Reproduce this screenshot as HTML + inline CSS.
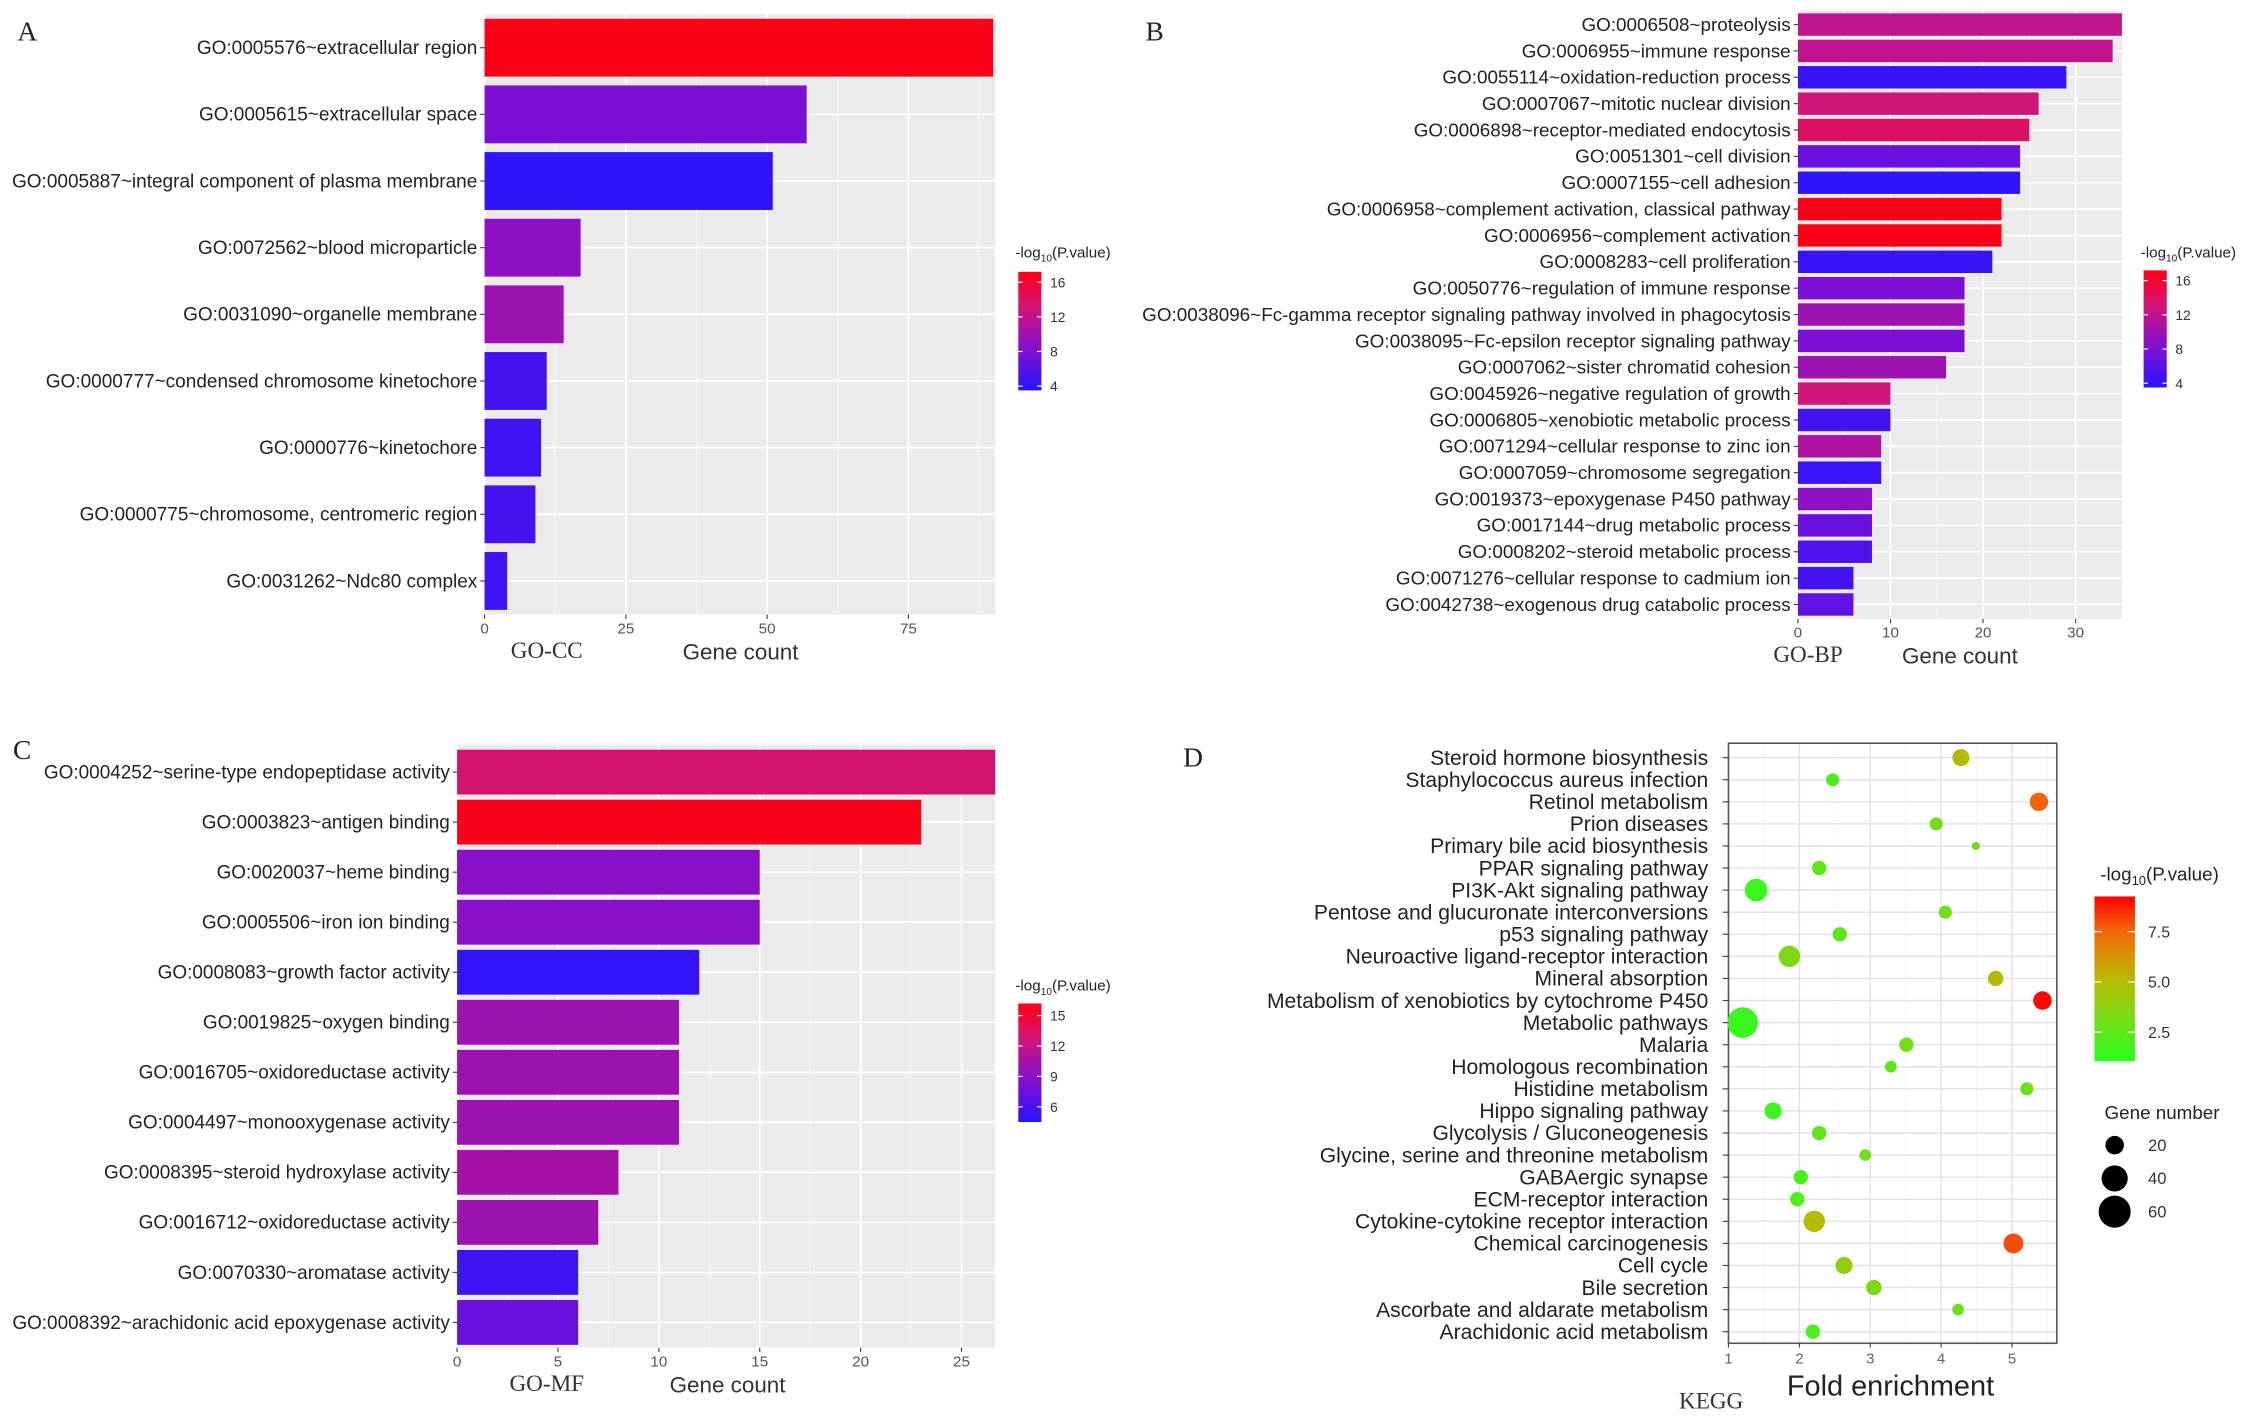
<!DOCTYPE html>
<html><head><meta charset="utf-8">
<style>
html,body{margin:0;padding:0;background:#fff;}
svg{display:block;}
text{font-family:"Liberation Sans",Arial,sans-serif;}
.serif{font-family:"Liberation Serif",serif;}
</style></head>
<body>
<svg id="fig" width="2268" height="1417" viewBox="0 0 1568 980" preserveAspectRatio="none" xmlns="http://www.w3.org/2000/svg"></svg>
<script>
// ---------- Panel A data (GO-CC) ----------
const ccTerms = ["GO:0005576~extracellular region","GO:0005615~extracellular space","GO:0005887~integral component of plasma membrane","GO:0072562~blood microparticle","GO:0031090~organelle membrane","GO:0000777~condensed chromosome kinetochore","GO:0000776~kinetochore","GO:0000775~chromosome, centromeric region","GO:0031262~Ndc80 complex"];
const ccCounts = [90,57,51,17,14,11,10,9,4];
const ccLogP = [17,8,4,9,10,5,4.6,5,4.7];
const ccTicks = [0,25,50,75];
const ccLegendTicks = [16,12,8,4];
// ---------- Panel B data (GO-BP) ----------
const bpTerms = ["GO:0006508~proteolysis","GO:0006955~immune response","GO:0055114~oxidation-reduction process","GO:0007067~mitotic nuclear division","GO:0006898~receptor-mediated endocytosis","GO:0051301~cell division","GO:0007155~cell adhesion","GO:0006958~complement activation, classical pathway","GO:0006956~complement activation","GO:0008283~cell proliferation","GO:0050776~regulation of immune response","GO:0038096~Fc-gamma receptor signaling pathway involved in phagocytosis","GO:0038095~Fc-epsilon receptor signaling pathway","GO:0007062~sister chromatid cohesion","GO:0045926~negative regulation of growth","GO:0006805~xenobiotic metabolic process","GO:0071294~cellular response to zinc ion","GO:0007059~chromosome segregation","GO:0019373~epoxygenase P450 pathway","GO:0017144~drug metabolic process","GO:0008202~steroid metabolic process","GO:0071276~cellular response to cadmium ion","GO:0042738~exogenous drug catabolic process"];
const bpCounts = [35,34,29,26,25,24,24,22,22,21,18,18,18,16,10,10,9,9,8,8,8,6,6];
const bpLogP = [12,12,4.3,13,14,7,4,17,17,4.3,8,10,8,10,13,5,11,4.5,9,7,5.5,5,6.5];
const bpTicks = [0,10,20,30];
const bpLegendTicks = [16,12,8,4];
// ---------- Panel C data (GO-MF) ----------
const mfTerms = ["GO:0004252~serine-type endopeptidase activity","GO:0003823~antigen binding","GO:0020037~heme binding","GO:0005506~iron ion binding","GO:0008083~growth factor activity","GO:0019825~oxygen binding","GO:0016705~oxidoreductase activity","GO:0004497~monooxygenase activity","GO:0008395~steroid hydroxylase activity","GO:0016712~oxidoreductase activity","GO:0070330~aromatase activity","GO:0008392~arachidonic acid epoxygenase activity"];
const mfCounts = [27,23,15,15,12,11,11,11,8,7,6,6];
const mfLogP = [13,16,9,9,5,10,10,10,10.5,10,5.5,7.5];
const mfTicks = [0,5,10,15,20,25];
const mfLegendTicks = [15,12,9,6];
// ---------- Panel D data (KEGG) ----------
const keggTerms = ["Steroid hormone biosynthesis","Staphylococcus aureus infection","Retinol metabolism","Prion diseases","Primary bile acid biosynthesis","PPAR signaling pathway","PI3K-Akt signaling pathway","Pentose and glucuronate interconversions","p53 signaling pathway","Neuroactive ligand-receptor interaction","Mineral absorption","Metabolism of xenobiotics by cytochrome P450","Metabolic pathways","Malaria","Homologous recombination","Histidine metabolism","Hippo signaling pathway","Glycolysis / Gluconeogenesis","Glycine, serine and threonine metabolism","GABAergic synapse","ECM-receptor interaction","Cytokine-cytokine receptor interaction","Chemical carcinogenesis","Cell cycle","Bile secretion","Ascorbate and aldarate metabolism","Arachidonic acid metabolism"];
const keggFold = [4.28,2.47,5.38,3.93,4.49,2.28,1.39,4.06,2.57,1.86,4.77,5.43,1.2,3.51,3.29,5.21,1.63,2.28,2.93,2.02,1.97,2.21,5.02,2.63,3.05,4.24,2.19];
const keggGenes = [17,10,20,10,4,12,30,10,12,27,14,20,55,12,8,10,17,12,8,12,12,27,23,17,14,8,12];
const keggLogP = [5,2,7.6,3,3,2.5,1.5,3,2.5,3.5,5,9.1,1.5,3,2.5,3,1.5,2.5,3,2,2,5,8,4,3.5,3,2];
const keggTicks = [1,2,3,4,5];
const keggColorTicks = [7.5,5.0,2.5];
const keggSizeTicks = [20,40,60];

const NS="http://www.w3.org/2000/svg";
const svg=document.getElementById('fig');
function el(tag,attrs,parent,txt){const e=document.createElementNS(NS,tag);for(const k in attrs)e.setAttribute(k,attrs[k]);if(txt!==undefined)e.textContent=txt;(parent||svg).appendChild(e);return e;}
function lerp(a,b,t){return Math.round(a+(b-a)*t);}
function blueRed(v,lo,hi){let t=Math.max(0,Math.min(1,(v-lo)/(hi-lo)));
  const stops=[[0,[40,20,255]],[0.35,[130,15,210]],[0.7,[210,20,120]],[1,[255,0,20]]];
  for(let i=1;i<stops.length;i++){if(t<=stops[i][0]){const a=stops[i-1],b=stops[i];const u=(t-a[0])/(b[0]-a[0]);return `rgb(${lerp(a[1][0],b[1][0],u)},${lerp(a[1][1],b[1][1],u)},${lerp(a[1][2],b[1][2],u)})`;}}
}
function greenRed(v,lo,hi){let t=Math.max(0,Math.min(1,(v-lo)/(hi-lo)));
  const stops=[[0,[40,255,30]],[0.3,[130,215,20]],[0.5,[185,185,0]],[0.8,[245,100,10]],[1,[255,0,0]]];
  for(let i=1;i<stops.length;i++){if(t<=stops[i][0]){const a=stops[i-1],b=stops[i];const u=(t-a[0])/(b[0]-a[0]);return `rgb(${lerp(a[1][0],b[1][0],u)},${lerp(a[1][1],b[1][1],u)},${lerp(a[1][2],b[1][2],u)})`;}}
}

function barPanel(o){
  const g=el('g',{});
  
  
  const x=v=>o.x0+(v-0)*o.ppu;
  const n=o.terms.length;
  const yC=i=>o.yFirst+i*o.step;
  const bg=el('rect',{x:o.x0,y:o.top,width:o.x1-o.x0,height:o.bottom-o.top,fill:'#ebebeb'},g);
  
  
  for(let k=0;k<o.ticks.length;k++){
    const tv=o.ticks[k];const mid=tv+(o.ticks[1]-o.ticks[0])/2;
    if(x(mid)<o.x1) el('line',{x1:x(mid),x2:x(mid),y1:o.top,y2:o.bottom,stroke:'#f5f5f5','stroke-width':0.6},g);
    el('line',{x1:x(tv),x2:x(tv),y1:o.top,y2:o.bottom,stroke:'#fff','stroke-width':1.1},g);
  }
  for(let i=0;i<n;i++) el('line',{x1:o.x0,x2:o.x1,y1:yC(i),y2:yC(i),stroke:'#fff','stroke-width':1.1},g);
  for(let i=0;i<n;i++){
    const w=Math.min(x(o.counts[i]),o.x1)-o.x0;
    const r=el('rect',{x:o.x0,y:yC(i)-o.bh/2,width:w,height:o.bh,fill:blueRed(o.logp[i],o.lo,o.hi)},g);
    
    
    const t=el('text',{x:o.x0-5,y:yC(i)+4.4,'text-anchor':'end','font-size':o.fs,fill:'#222'},g,o.terms[i]);
    
    
    el('line',{x1:o.x0-3,x2:o.x0,y1:yC(i),y2:yC(i),stroke:'#444','stroke-width':0.8},g);
  }
  for(const tv of o.ticks){
    el('line',{x1:x(tv),x2:x(tv),y1:o.bottom,y2:o.bottom+3,stroke:'#444','stroke-width':0.8},g);
    const t=el('text',{x:x(tv),y:o.bottom+13,'text-anchor':'middle','font-size':10.5,fill:'#555'},g,String(tv));
    
    
  }
  const s=el('text',{x:o.subX,y:o.bottom+30,'text-anchor':'middle','font-size':16,fill:'#333',class:'serif'},g,o.sub);
  
  
  const a=el('text',{x:o.axX,y:o.bottom+31,'text-anchor':'middle','font-size':15.5,fill:'#333'},g,'Gene count');
  
  
  const L=o.leg;
  const lt=el('text',{x:L.x-2,y:L.tY,'font-size':10.5,fill:'#222'},g);
  
  
  el('tspan',{},lt,'-log');el('tspan',{'font-size':7,dy:3},lt,'10');el('tspan',{dy:-3},lt,'(P.value)');
  const gid='grad'+o.name;
  const defs=el('defs',{},g);const lg=el('linearGradient',{id:gid,x1:0,y1:1,x2:0,y2:0},defs);
  for(let k=0;k<=10;k++){const v=o.lo+(o.hi-o.lo)*k/10;el('stop',{offset:k/10,'stop-color':blueRed(v,o.lo,o.hi)},lg);}
  const cb=el('rect',{x:L.x,y:L.y0,width:16,height:L.y1-L.y0,fill:`url(#${gid})`},g);
  
  
  const ly=v=>L.y1-(v-o.lo)/(o.hi-o.lo)*(L.y1-L.y0);
  for(const tv of o.legTicks){
    el('line',{x1:L.x,x2:L.x+3,y1:ly(tv),y2:ly(tv),stroke:'#fff','stroke-width':0.8},g);
    el('line',{x1:L.x+13,x2:L.x+16,y1:ly(tv),y2:ly(tv),stroke:'#fff','stroke-width':0.8},g);
    const t=el('text',{x:L.x+22,y:ly(tv)+3.5,'font-size':9.5,fill:'#333'},g,String(tv));
    
    
  }
  const P=el('text',{x:o.letter[0],y:o.letter[1],'font-size':19,fill:'#222',class:'serif'},g,o.letterT);
  
  
}

barPanel({name:'panel-a-go-cc',terms:ccTerms,counts:ccCounts,logp:ccLogP,ticks:ccTicks,legTicks:ccLegendTicks,
  x0:335,x1:688,ppu:3.907,top:10,bottom:425,yFirst:33,step:46.1,bh:40,fs:13.15,lo:3.5,hi:17.2,
  sub:'GO-CC',subX:378,axX:512,leg:{x:704,y0:188,y1:270,tY:178},letter:[12,28],letterT:'A'});
barPanel({name:'panel-b-go-bp',terms:bpTerms,counts:bpCounts,logp:bpLogP,ticks:bpTicks,legTicks:bpLegendTicks,
  x0:1243,x1:1467,ppu:6.4,top:7,bottom:428,yFirst:17,step:18.23,bh:15.5,fs:13.05,lo:3.5,hi:17.2,
  sub:'GO-BP',subX:1250,axX:1355,leg:{x:1482,y0:187,y1:268,tY:178},letter:[792,28],letterT:'B'});
barPanel({name:'panel-c-go-mf',terms:mfTerms,counts:mfCounts,logp:mfLogP,ticks:mfTicks,legTicks:mfLegendTicks,
  x0:316,x1:688,ppu:13.95,top:515,bottom:932,yFirst:534,step:34.6,bh:31,fs:13.1,lo:4.5,hi:16.2,
  sub:'GO-MF',subX:378,axX:503,leg:{x:704,y0:694,y1:776,tY:685},letter:[9,525],letterT:'C'});

// ---------- Panel D ----------
(function(){
  const g=el('g',{});
  
  
  const X0=1195,X1=1422,T=514,B=929,ppu=49,dMin=1;
  const x=v=>X0+(v-dMin)*ppu;
  const yFirst=524,step=15.27;
  const y=i=>yFirst+i*step;
  el('rect',{x:X0,y:T,width:X1-X0,height:B-T,fill:'#fff'},g);
  for(let v=1.5;x(v)<X1;v+=1) el('line',{x1:x(v),x2:x(v),y1:T,y2:B,stroke:'#f2f2f2','stroke-width':0.6},g);
  for(const tv of keggTicks) el('line',{x1:x(tv),x2:x(tv),y1:T,y2:B,stroke:'#e3e3e3','stroke-width':1},g);
  for(let i=0;i<keggTerms.length;i++) el('line',{x1:X0,x2:X1,y1:y(i),y2:y(i),stroke:'#e3e3e3','stroke-width':1},g);
  const bd=el('rect',{x:X0,y:T,width:X1-X0,height:B-T,fill:'none',stroke:'#555','stroke-width':1.1},g);
  
  
  const rad=n=>1.43*Math.sqrt(n);
  for(let i=0;i<keggTerms.length;i++){
    const c=el('circle',{cx:x(keggFold[i]),cy:y(i),r:rad(keggGenes[i]),fill:greenRed(keggLogP[i],1.05,9.25)},g);
    
    
    const t=el('text',{x:X0-14,y:y(i)+5,'text-anchor':'end','font-size':14.6,fill:'#222'},g,keggTerms[i]);
    
    
    el('line',{x1:X0-4,x2:X0,y1:y(i),y2:y(i),stroke:'#444','stroke-width':0.8},g);
  }
  for(const tv of keggTicks){
    el('line',{x1:x(tv),x2:x(tv),y1:B,y2:B+3,stroke:'#444','stroke-width':0.8},g);
    const t=el('text',{x:x(tv),y:B+14,'text-anchor':'middle','font-size':10.5,fill:'#666'},g,String(tv));
    
    
  }
  const a=el('text',{x:1307,y:965,'text-anchor':'middle','font-size':20,fill:'#222'},g,'Fold enrichment');
  
  
  const s=el('text',{x:1183,y:974,'text-anchor':'middle','font-size':16,fill:'#333',class:'serif'},g,'KEGG');
  
  
  const P=el('text',{x:818,y:530,'font-size':19,fill:'#222',class:'serif'},g,'D');
  
  
  const lo=1.05,hi=9.25,LY0=620,LY1=734,LX=1448;
  const lt=el('text',{x:1452,y:609,'font-size':13,fill:'#222'},g);
  
  
  el('tspan',{},lt,'-log');el('tspan',{'font-size':9,dy:3},lt,'10');el('tspan',{dy:-3},lt,'(P.value)');
  const defs=el('defs',{},g);const lg=el('linearGradient',{id:'gradkegg',x1:0,y1:1,x2:0,y2:0},defs);
  for(let k=0;k<=10;k++){const v=lo+(hi-lo)*k/10;el('stop',{offset:k/10,'stop-color':greenRed(v,lo,hi)},lg);}
  const cb=el('rect',{x:LX,y:LY0,width:28,height:LY1-LY0,fill:'url(#gradkegg)'},g);
  
  
  const ly=v=>LY1-(v-lo)/(hi-lo)*(LY1-LY0);
  for(const tv of keggColorTicks){
    el('line',{x1:LX,x2:LX+5,y1:ly(tv),y2:ly(tv),stroke:'#fff','stroke-width':0.8},g);
    el('line',{x1:LX+23,x2:LX+28,y1:ly(tv),y2:ly(tv),stroke:'#fff','stroke-width':0.8},g);
    const t=el('text',{x:LX+37,y:ly(tv)+4,'font-size':11,fill:'#333'},g,tv.toFixed(1));
    
    
  }
  const st=el('text',{x:1455,y:774,'font-size':13,fill:'#222'},g,'Gene number');
  
  
  keggSizeTicks.forEach((n,k)=>{
    const cy=792+k*23;
    const c=el('circle',{cx:1462,cy:cy,r:rad(n),fill:'#000'},g);
    
    
    const t=el('text',{x:1485,y:cy+4,'font-size':11.5,fill:'#333'},g,String(n));
    
    
  });
})();
</script>
</body></html>
